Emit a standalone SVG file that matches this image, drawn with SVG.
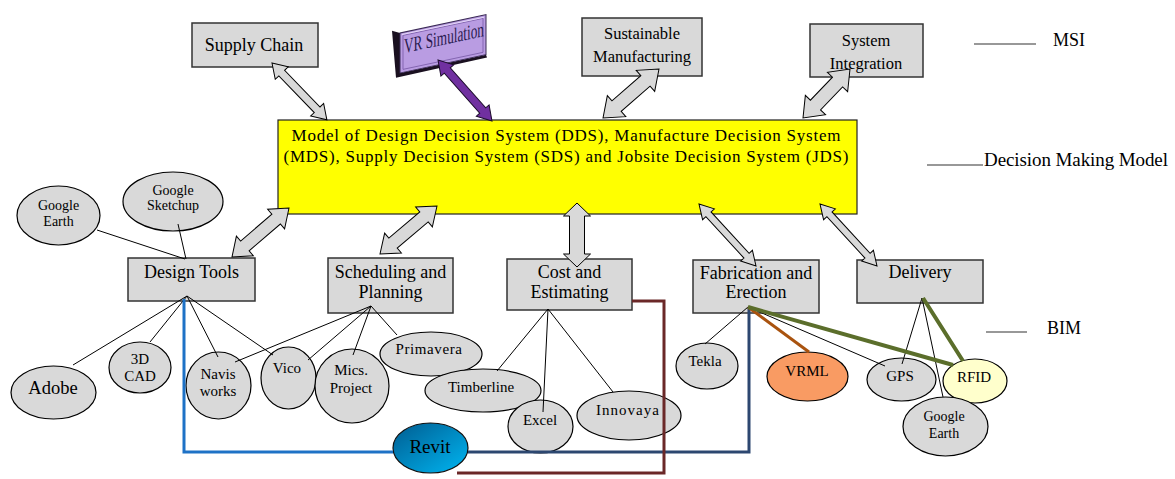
<svg xmlns="http://www.w3.org/2000/svg" width="1175" height="479" viewBox="0 0 1175 479" font-family="'Liberation Serif', 'Times New Roman', serif">
<defs>
<style>
.box{fill:#D9D9D9;stroke:#333;stroke-width:1.5}
.ell{fill:#D9D9D9;stroke:#000;stroke-width:1.2}
.t{fill:#000;text-anchor:middle}
.s18{font-size:18px}.s17{font-size:17px}.s165{font-size:16.5px}.s15{font-size:15px}.s14{font-size:14px}
.thin{stroke:#000;stroke-width:1;fill:none}
.blk{fill:#D9D9D9;stroke:#000;stroke-width:1}
.leg{stroke:#333;stroke-width:1.2}
</style>
<linearGradient id="revitGrad" x1="0" y1="0" x2="1" y2="1">
<stop offset="0" stop-color="#005C90"/>
<stop offset="1" stop-color="#00B6F2"/>
</linearGradient>
</defs>
<rect width="1175" height="479" fill="#fff"/>

<g id="ddm">
<rect x="278" y="120" width="579" height="94" fill="#FFFF00" stroke="#222" stroke-width="1.2"/>
<text class="t s17" x="566" y="141" textLength="549" lengthAdjust="spacing">Model of Design Decision System (DDS), Manufacture Decision System</text>
<text class="t s17" x="566" y="162" textLength="565" lengthAdjust="spacing">(MDS), Supply Decision System (SDS) and Jobsite Decision System (JDS)</text>
</g>

<g id="supply-chain">
<rect class="box" x="192" y="23" width="126" height="44"/>
<text class="t s18" x="254" y="51">Supply Chain</text>
</g>

<g id="vr-simulation" transform="translate(400,33) skewY(-12)">
<polygon points="-8,-4 0,0 0,40 86,40 87,43 -4,44" fill="#1a1020"/>
<rect x="0" y="0" width="86" height="40" fill="#B99CE2" stroke="#3a2a55" stroke-width="1"/>
<rect x="3" y="3" width="80" height="34" fill="none" stroke="#7A5AA8" stroke-width="0.8"/>
<line x1="2" y1="2" x2="84" y2="2" stroke="#E6DAF7" stroke-width="1"/>
<text x="4" y="21" font-size="21" fill="#2A1A50" textLength="80" lengthAdjust="spacingAndGlyphs">VR Simulation</text>
</g>

<g id="sustainable">
<rect class="box" x="582" y="18" width="120" height="58"/>
<text class="t s165" x="642" y="39">Sustainable</text>
<text class="t s165" x="642" y="62">Manufacturing</text>
</g>

<g id="system-integration">
<rect class="box" x="810" y="24" width="113" height="53"/>
<text class="t s165" x="866" y="46">System</text>
<text class="t s165" x="866" y="69">Integration</text>
</g>

<g id="design-tools">
<rect class="box" x="128" y="258" width="127" height="43"/>
<text class="t s18" x="191.5" y="278">Design Tools</text>
</g>
<g id="scheduling">
<rect class="box" x="328" y="258" width="125" height="55"/>
<text class="t s18" x="390.5" y="278">Scheduling and</text>
<text class="t s18" x="390.5" y="298">Planning</text>
</g>
<g id="cost">
<rect class="box" x="507" y="259" width="125" height="51"/>
<text class="t s18" x="569.5" y="278">Cost and</text>
<text class="t s18" x="569.5" y="298">Estimating</text>
</g>
<g id="fabrication">
<rect class="box" x="693" y="260" width="126" height="53"/>
<text class="t s18" x="756" y="279">Fabrication and</text>
<text class="t s18" x="756" y="298">Erection</text>
</g>
<g id="delivery">
<rect class="box" x="857" y="260" width="126" height="43"/>
<text class="t s18" x="920" y="278">Delivery</text>
</g>

<g id="google-earth-1"><ellipse class="ell" cx="58.5" cy="215.5" rx="41.5" ry="29.5"/>
<text class="t s14" x="58.5" y="210">Google</text><text class="t s14" x="58.5" y="226">Earth</text></g>
<g id="google-sketchup"><ellipse class="ell" cx="173" cy="201.5" rx="50" ry="29.5"/>
<text class="t s14" x="173" y="195">Google</text><text class="t s14" x="173" y="210">Sketchup</text></g>
<g id="adobe"><ellipse class="ell" cx="53.5" cy="392.5" rx="42.5" ry="26.5"/>
<text class="t" font-size="18.5" x="53" y="394">Adobe</text></g>
<g id="cad"><ellipse class="ell" cx="140" cy="367.5" rx="31" ry="25.5"/>
<text class="t s15" x="140" y="364">3D</text><text class="t s15" x="140" y="381">CAD</text></g>
<g id="navisworks"><ellipse class="ell" cx="218.5" cy="385.5" rx="32.5" ry="33.5"/>
<text class="t s15" x="218" y="379">Navis</text><text class="t s15" x="218" y="396">works</text></g>
<g id="vico"><ellipse class="ell" cx="288.5" cy="378" rx="27.5" ry="31"/>
<text class="t s15" x="287" y="373">Vico</text></g>
<g id="mics-project"><ellipse class="ell" cx="352" cy="386" rx="37" ry="37"/>
<text class="t s15" x="351" y="375">Mics.</text><text class="t s15" x="351" y="393">Project</text></g>
<g id="primavera"><ellipse class="ell" cx="431" cy="354" rx="51" ry="22"/>
<text class="t s15" x="429" y="354" letter-spacing="0.6">Primavera</text></g>
<g id="timberline"><ellipse class="ell" cx="483" cy="390.5" rx="58" ry="21.5"/>
<text class="t s15" x="481" y="392">Timberline</text></g>
<g id="excel"><ellipse class="ell" cx="540.5" cy="426.5" rx="32.5" ry="26.5"/>
<text class="t s15" x="540" y="425">Excel</text></g>
<g id="innovaya"><ellipse class="ell" cx="629" cy="415.5" rx="52" ry="24.5"/>
<text class="t s15" x="628" y="415" letter-spacing="1">Innovaya</text></g>
<g id="tekla"><ellipse class="ell" cx="707" cy="366" rx="31" ry="23"/>
<text class="t s15" x="705" y="366">Tekla</text></g>
<g id="vrml"><ellipse cx="807.5" cy="376.5" rx="40.5" ry="24.5" fill="#F99B63" stroke="#000" stroke-width="1.2"/>
<text class="t s15" x="807" y="376">VRML</text></g>
<g id="gps"><ellipse class="ell" cx="901.5" cy="379.5" rx="34.5" ry="21.5"/>
<text class="t s15" x="900" y="381">GPS</text></g>
<g id="rfid"><ellipse cx="975" cy="381" rx="32" ry="22" fill="#FFFFCC" stroke="#000" stroke-width="1.2"/>
<text class="t s15" x="974" y="382">RFID</text></g>
<g id="google-earth-2"><ellipse class="ell" cx="945.5" cy="426.5" rx="42.5" ry="29.5"/>
<text class="t s14" x="944" y="421">Google</text><text class="t s14" x="944" y="438">Earth</text></g>
<g id="revit"><ellipse cx="430.5" cy="448" rx="37.5" ry="25" fill="url(#revitGrad)" stroke="#111" stroke-width="1.2"/>
<text class="t" font-size="19" x="430" y="453">Revit</text></g>

<g id="legend">
<line class="leg" x1="974" y1="44" x2="1036" y2="44"/>
<text class="t s18" x="1069" y="46">MSI</text>
<line class="leg" x1="927" y1="165" x2="983" y2="165"/>
<text class="t" font-size="19" x="984" y="166" textLength="184" lengthAdjust="spacing" style="text-anchor:start">Decision Making Model</text>
<line class="leg" x1="986" y1="332" x2="1027" y2="332"/>
<text class="t s18" x="1047" y="334" style="text-anchor:start">BIM</text>
</g>

<g id="connectors">
<polygon class="blk" transform="translate(272,63) rotate(46)" points="0,0 14,-9 14,-4 65,-4 65,-9 79,0 65,9 65,4 14,4 14,9"/>
<polygon transform="translate(438,60) rotate(48.5)" fill="#7030A0" stroke="#1a0a2a" stroke-width="1" points="0,0 14,-8.5 14,-4 67.5,-4 67.5,-8.5 81.5,0 67.5,8.5 67.5,4 14,4 14,8.5"/>
<polygon class="blk" transform="translate(659,69) rotate(138.8)" points="0,0 18,-14 18,-7 56.4,-7 56.4,-14 74.4,0 56.4,14 56.4,7 18,7 18,14"/>
<polygon class="blk" transform="translate(850,69) rotate(133.8)" points="0,0 18,-14 18,-7 49.9,-7 49.9,-14 67.9,0 49.9,14 49.9,7 18,7 18,14"/>
<polygon class="blk" transform="translate(289,208) rotate(139.3)" points="0,0 17,-13 17,-6.5 58.2,-6.5 58.2,-13 75.2,0 58.2,13 58.2,6.5 17,6.5 17,13"/>
<polygon class="blk" transform="translate(437,206) rotate(139.9)" points="0,0 17,-13 17,-6.5 57.5,-6.5 57.5,-13 74.5,0 57.5,13 57.5,6.5 17,6.5 17,13"/>
<polygon class="blk" transform="translate(577,203) rotate(90)" points="0,0 13,-13.5 13,-7.5 51,-7.5 51,-13.5 64,0 51,13.5 51,7.5 13,7.5 13,13.5"/>
<polygon class="blk" transform="translate(699,204) rotate(47.4)" points="0,0 14,-8 14,-3.5 70.2,-3.5 70.2,-8 84.2,0 70.2,8 70.2,3.5 14,3.5 14,8"/>
<polygon class="blk" transform="translate(820,204) rotate(47.4)" points="0,0 14,-8 14,-3.5 70.2,-3.5 70.2,-8 84.2,0 70.2,8 70.2,3.5 14,3.5 14,8"/>

<path class="thin" d="M97,230 L185,259 M178,224 L186,259"/>
<path class="thin" d="M187,296 L73,365 M187,296 L150,342 M187,296 L218,357 M187,296 L273,355"/>
<path class="thin" d="M371,306 L235,362 M371,306 L308,360 M371,306 L353,355 M371,306 L397,335"/>
<path class="thin" d="M548,309 L497,371 M548,309 L543,412 M548,309 L613,392"/>
<path class="thin" d="M748,307 L705,344 M748,307 L885,366 M922,298 L902,364 M922,298 L943,397"/>

<path d="M184,299 V452 H393" fill="none" stroke="#1E72C6" stroke-width="3"/>
<path d="M468,452 H749 V307" fill="none" stroke="#2C4770" stroke-width="3"/>
<path d="M632,301 H664 V473 H457" fill="none" stroke="#6B2828" stroke-width="3"/>
<path d="M748,307 L809,352" fill="none" stroke="#A9530F" stroke-width="3"/>
<path d="M748,307 L953,365 M923,298 L963,361" fill="none" stroke="#5B6E2B" stroke-width="4"/>
</g>
</svg>
